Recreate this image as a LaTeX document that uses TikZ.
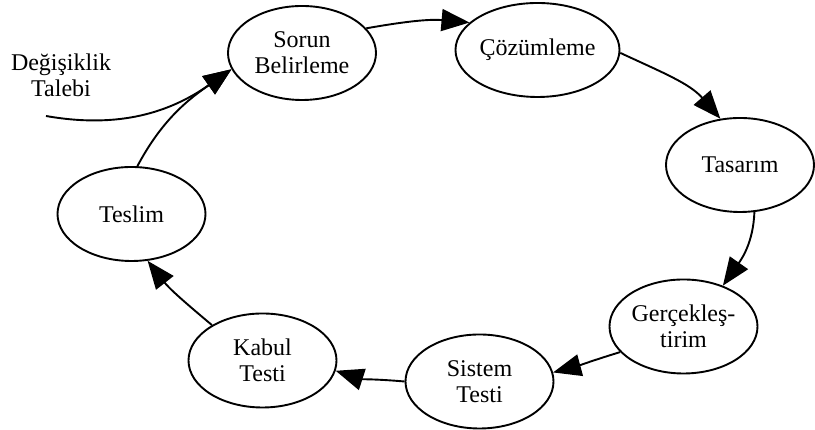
\documentclass[tikz,border=0pt]{standalone}
\usepackage{fontspec}
\setmainfont{Liberation Serif}
\usetikzlibrary{shapes.geometric,arrows.meta}
\begin{document}
\begin{tikzpicture}[x=1pt,y=1pt,
  stage/.style={ellipse, draw, line width=1.9pt, minimum width=148pt,
    minimum height=94pt, inner sep=0pt, align=center,
    font=\fontsize{24}{26}\selectfont},
  flow/.style={line width=1.9pt, -{Triangle[length=28pt,width=22pt]}},
  note/.style={align=center, inner sep=0pt, font=\fontsize{24}{26}\selectfont}]
\useasboundingbox (0,0) rectangle (815,430);

% life-cycle phases
\node[stage] (sorun)   at (302,377)     {Sorun\\Belirleme};
\node[stage] (cozum)   at (537.5,380)   {Çözümleme};
\node[stage] (tasarim) at (740,265)     {Tasarım};
\node[stage] (gercek)  at (683.5,103.5) {Gerçekleş-\\tirim};
\node[stage] (sistem)  at (479.5,48.5)  {Sistem\\Testi};
\node[stage] (kabul)   at (262.5,69.5)  {Kabul\\Testi};
\node[stage] (teslim)  at (131.5,216)   {Teslim};

% incoming change request
\node[note] (talep) at (61,355) {Değişiklik\\Talebi};
\coordinate (talepuc) at (46,314);

% cycle
\draw[flow] (sorun.21)   to[out=10,in=175]   (cozum.158);
\draw[flow] (cozum.-2)   to[out=-25,in=131]  (tasarim.113);
\draw[flow] (tasarim.-73) to[out=-92,in=55]  (gercek.46);
\draw[flow] (gercek.202) to[out=197,in=15]   (sistem.7);
\draw[flow] (sistem.180) to[out=175,in=-18]  (kabul.-8);
\draw[flow] (kabul.145)  to[out=140,in=-52]  (teslim.-71);
\draw[flow] (teslim.83)  to[out=62,in=-145]  (sorun.193);
\draw[flow] (talepuc)    to[out=-10,in=-145] (sorun.193);
\end{tikzpicture}
\end{document}
